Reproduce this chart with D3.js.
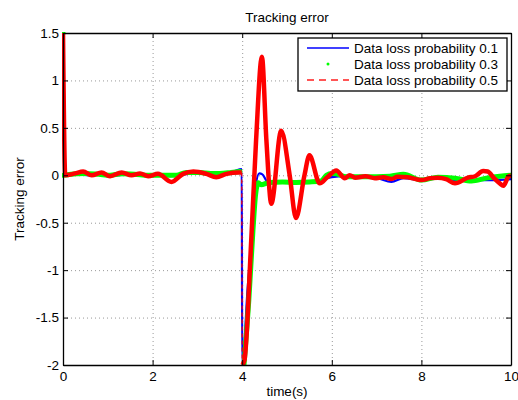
<!DOCTYPE html>
<html>
<head>
<meta charset="utf-8">
<script src="https://cdn.jsdelivr.net/npm/d3@7/dist/d3.min.js"></script>
<style>
  body { margin: 0; background: #fff; }
  text { font-family: "Liberation Sans", Arial, Helvetica, sans-serif; fill: #000; }
</style>
</head>
<body>
<svg id="chart" width="518" height="400"></svg>
<script>
// ---- data -------------------------------------------------------------
const xTicks = [0, 2, 4, 6, 8, 10];
const yTicks = [1.5, 1, 0.5, 0, -0.5, -1, -1.5, -2];
const yTickLabels = ["1.5", "1", "0.5", "0", "-0.5", "-1", "-1.5", "-2"];
const seriesNames = ["Data loss probability 0.1", "Data loss probability 0.3", "Data loss probability 0.5"];

// NaN marks a break between samples (a step in the reference signal)
const blueT = [0, 0.05, 0.3, 0.6, 0.9, 1.2, 1.5, 1.8, 2.1, 2.4, 2.7, 3.0, 3.3, 3.6, 3.8, 3.99,
  4.0, 4.12, 4.24, 4.3, 4.38, 4.45, 4.57, 4.8, 5.1, 5.4, 5.7, 6.0, 6.3, 6.6, 7.0, 7.33, 7.6, 8.0, 8.4, 8.8, 9.2, 9.6, 10];
const blueV = [1.5, 0, 0.01, 0.0, 0.01, 0.0, 0.01, 0.0, 0.0, -0.01, 0.01, 0.02, 0.02, 0.03, 0.04, 0.065,
  -2.0, -1.2, -0.47, -0.12, 0.02, 0.01, -0.07, -0.07, -0.08, -0.07, -0.06, -0.02, -0.01, -0.02, -0.03, -0.07, -0.03, -0.05, -0.03, -0.05, -0.05, -0.05, -0.04];

const greenT = [0, 0.005, 0.01, 0.3, 0.5, 0.8, 1.05, 1.3, 1.6, 1.9, 2.2, 2.53, 2.75, 3.05, 3.3, 3.5, 3.75, 3.95, 4.0,
  4.04, 4.15, 4.24, 4.3, 4.36, 4.42, 4.6, 4.9, 5.2, 5.5, 5.76, 5.88, 6.0, 6.1, 6.33, 6.6, 7.0, 7.3, 7.6, 8.0, 8.37, 8.75, 9.12, 9.45, 9.75, 10];
const greenV = [1.5, NaN, 0.0, 0.015, 0.02, 0.01, 0.0, 0.015, 0.01, 0.0, 0.0, 0.0, 0.03, 0.03, 0.02, 0.02, 0.03, 0.04, NaN,
  -2.0, -1.3, -0.58, -0.2, -0.08, -0.1, -0.075, -0.07, -0.075, -0.07, -0.06, 0.0, 0.02, 0.015, -0.015, -0.015, -0.015, -0.01, 0.01, -0.05, -0.02, -0.03, -0.06, -0.03, -0.01, 0.0];

const redT = [0, 0.05, 0.27, 0.45, 0.64, 0.86, 1.05, 1.31, 1.53, 1.72, 1.9, 2.12, 2.42, 2.68, 2.91, 3.2, 3.42, 3.65, 3.91, 3.99, 3.995,
  4.0, 4.05, 4.2, 4.31, 4.44, 4.54, 4.65, 4.87, 5.06, 5.2, 5.39, 5.5, 5.73, 5.9, 6.1, 6.29, 6.4, 6.52, 6.75, 6.96, 7.15, 7.33, 7.47, 7.7,
  8.0, 8.2, 8.37, 8.55, 8.75, 9.04, 9.2, 9.38, 9.48, 9.62, 9.75, 9.83, 9.94, 10];
const redV = [1.5, 0, 0.02, 0.04, 0.0, 0.03, -0.01, 0.03, 0.0, 0.02, -0.01, 0.015, -0.07, 0.015, 0.04, 0.015, -0.02, 0.015, 0.03, 0.03, NaN,
  -2.0, -1.95, -0.7, 0.37, 1.25, 0.37, -0.3, 0.47, 0.0, -0.45, 0.0, 0.21, -0.085, -0.02, 0.05, -0.03, 0.0, -0.025, -0.01, -0.03, -0.02, -0.04, -0.015, -0.02,
  -0.05, -0.03, -0.025, -0.04, -0.085, -0.025, -0.01, 0.045, 0.04, -0.03, -0.085, -0.11, -0.015, 0.0];

// ---- layout -----------------------------------------------------------
const W = 518, H = 400;
const margin = { left: 63, right: 7, top: 33, bottom: 35 };
const pw = W - margin.left - margin.right;
const ph = H - margin.top - margin.bottom;
const FONT = 13.5;

const svg = d3.select("#chart");
const x = d3.scaleLinear().domain([0, 10]).range([0, pw]);
const y = d3.scaleLinear().domain([-2, 1.5]).range([ph, 0]);

const g = svg.append("g").attr("transform", `translate(${margin.left},${margin.top})`);

// title and axis labels
svg.append("text").attr("x", margin.left + pw / 2).attr("y", 22)
  .attr("text-anchor", "middle").style("font-size", FONT + "px").text("Tracking error");
svg.append("text").attr("x", margin.left + pw / 2).attr("y", 396)
  .attr("text-anchor", "middle").style("font-size", FONT + "px").text("time(s)");
svg.append("text").attr("transform", `translate(23.5,${margin.top + ph / 2}) rotate(-90)`)
  .attr("text-anchor", "middle").style("font-size", FONT + "px").text("Tracking error");

// dotted grid
const grid = g.append("g").attr("stroke", "#999").attr("stroke-width", 1).attr("stroke-dasharray", "1,3");
grid.selectAll("line.gx").data(xTicks.filter(d => d > 0 && d < 10)).join("line")
  .attr("x1", d => x(d) + 0.5).attr("x2", d => x(d) + 0.5).attr("y1", 0).attr("y2", ph);
grid.selectAll("line.gy").data(yTicks.filter(d => d > -2 && d < 1.5)).join("line")
  .attr("y1", d => y(d) + 0.5).attr("y2", d => y(d) + 0.5).attr("x1", 0).attr("x2", pw);

// data lines
svg.append("defs").append("clipPath").attr("id", "plotClip")
  .append("rect").attr("x", -1).attr("y", -1).attr("width", pw + 2).attr("height", ph + 2);
const plot = g.append("g").attr("clip-path", "url(#plotClip)");

function pts(T, V) { return T.map((t, i) => [t, V[i]]); }
const line = d3.line().defined(d => !isNaN(d[1]))
  .x(d => x(d[0])).y(d => y(d[1])).curve(d3.curveMonotoneX);

// straight thin connectors across NaN breaks
function bridges(P) {
  const out = [];
  for (let i = 1; i < P.length - 1; i++) {
    if (isNaN(P[i][1]) && !isNaN(P[i - 1][1]) && !isNaN(P[i + 1][1])) out.push([P[i - 1], P[i + 1]]);
  }
  return out;
}

const blue = pts(blueT, blueV), green = pts(greenT, greenV), red = pts(redT, redV);

plot.append("path").datum(blue).attr("d", line)
  .attr("fill", "none").attr("stroke", "#0000ff").attr("stroke-width", 2.2).attr("stroke-linejoin", "round");

plot.append("path").datum(green).attr("d", line)
  .attr("fill", "none").attr("stroke", "#00ff00").attr("stroke-width", 5).attr("stroke-linejoin", "round")
  .attr("stroke-linecap", "round");

plot.append("path").datum(red).attr("d", line)
  .attr("fill", "none").attr("stroke", "#ff0000").attr("stroke-width", 4.5).attr("stroke-linejoin", "round");

plot.selectAll("line.redBridge").data(bridges(red)).join("line")
  .attr("x1", d => x(d[0][0])).attr("y1", d => y(d[0][1]))
  .attr("x2", d => x(d[1][0])).attr("y2", d => y(d[1][1]))
  .attr("stroke", "#ff0000").attr("stroke-width", 1.2).attr("stroke-dasharray", "4,3");

// axes: labelled left/bottom, inward ticks on all four sides
const tickLen = 5;
const axB = g.append("g").attr("transform", `translate(0,${ph})`)
  .call(d3.axisBottom(x).tickValues(xTicks).tickFormat(d => String(d)).tickSizeInner(-tickLen).tickSizeOuter(0).tickPadding(6));
const axL = g.append("g")
  .call(d3.axisLeft(y).tickValues(yTicks).tickFormat((d, i) => yTickLabels[i]).tickSizeInner(-tickLen).tickSizeOuter(0).tickPadding(4));
const axT = g.append("g")
  .call(d3.axisTop(x).tickValues(xTicks).tickFormat("").tickSizeInner(-tickLen).tickSizeOuter(0));
const axR = g.append("g").attr("transform", `translate(${pw},0)`)
  .call(d3.axisRight(y).tickValues(yTicks).tickFormat("").tickSizeInner(-tickLen).tickSizeOuter(0));
[axB, axL, axT, axR].forEach(a => {
  a.select(".domain").attr("stroke", "#000").attr("stroke-width", 1.3);
  a.selectAll(".tick line").attr("stroke", "#000");
  a.selectAll(".tick text").style("font-size", FONT + "px").attr("font-family", null);
});
axB.selectAll(".tick text").attr("dy", "0.71em");

// legend
const lg = g.append("g").attr("transform", `translate(${298 - margin.left},${38 - margin.top})`);
lg.append("rect").attr("x", 0).attr("y", 0).attr("width", 209).attr("height", 53)
  .attr("fill", "#fff").attr("stroke", "#000").attr("stroke-width", 1.3);
const rowY = [10, 26, 42];
lg.append("line").attr("x1", 9).attr("x2", 51).attr("y1", rowY[0]).attr("y2", rowY[0])
  .attr("stroke", "#0000ff").attr("stroke-width", 1.5);
lg.append("circle").attr("cx", 30).attr("cy", rowY[1]).attr("r", 1.5).attr("fill", "#00ff00");
lg.append("line").attr("x1", 9).attr("x2", 51).attr("y1", rowY[2]).attr("y2", rowY[2])
  .attr("stroke", "#ff5555").attr("stroke-width", 2).attr("stroke-dasharray", "7,5");
lg.selectAll("text.item").data(seriesNames).join("text")
  .attr("x", 56).attr("y", (d, i) => rowY[i]).attr("dy", "0.35em")
  .style("font-size", FONT + "px").text(d => d);
</script>
</body>
</html>
